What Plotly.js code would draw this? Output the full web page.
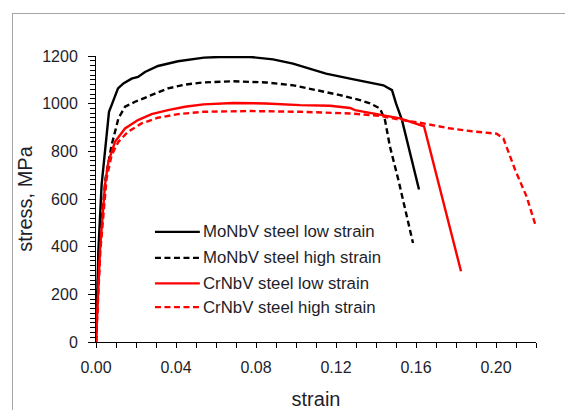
<!DOCTYPE html>
<html>
<head>
<meta charset="utf-8">
<script src="https://cdn.plot.ly/plotly-3.0.1.min.js"></script>
<style>
  html, body { margin: 0; padding: 0; background: #fff; }
  #wrap { position: relative; width: 565px; height: 410px; overflow: hidden; }
  #frame { position: absolute; left: 12px; top: 13px; width: 620px; height: 460px; border: 1px solid #a6a6a6; }
  #chart { position: absolute; left: 0; top: 0; width: 565px; height: 410px; }
</style>
</head>
<body>
<div id="wrap"><div id="frame"></div><div id="chart"></div></div>
<script>
// ---- data ----
const seriesNames = ["MoNbV steel low strain", "MoNbV steel high strain", "CrNbV steel low strain", "CrNbV steel high strain"];

const moLowStrain = [0, 0.0012, 0.0028, 0.0045, 0.0065, 0.0078, 0.011, 0.0137, 0.0178, 0.021, 0.0245, 0.031, 0.041, 0.054, 0.062, 0.077, 0.0885, 0.0985, 0.1087, 0.115, 0.127, 0.1387, 0.1437, 0.148, 0.150, 0.153, 0.157, 0.1615];
const moLowStress = [0, 386, 659, 805, 966, 994, 1064, 1085, 1105, 1112, 1133, 1158, 1178, 1193, 1196, 1196, 1186, 1168, 1140, 1126, 1105, 1085, 1077, 1057, 1001, 931, 791, 640];

const moHighStrain = [0, 0.0015, 0.0048, 0.0078, 0.0112, 0.0145, 0.0195, 0.0278, 0.036, 0.0445, 0.0537, 0.0687, 0.085, 0.0987, 0.110, 0.122, 0.132, 0.137, 0.142, 0.1445, 0.147, 0.1512, 0.1585];
const moHighStress = [0, 386, 687, 826, 938, 987, 1008, 1036, 1064, 1080, 1089, 1094, 1089, 1077, 1057, 1036, 1015, 1001, 980, 931, 819, 680, 415];

const crLowStrain = [0, 0.002, 0.0045, 0.0062, 0.0095, 0.0145, 0.021, 0.0278, 0.036, 0.0445, 0.0537, 0.0687, 0.085, 0.102, 0.117, 0.127, 0.1295, 0.142, 0.152, 0.164, 0.1825];
const crLowStress = [0, 386, 659, 756, 840, 896, 931, 956, 973, 987, 997, 1003, 1001, 994, 991, 982, 973, 955, 938, 905, 297];

const crHighStrain = [0, 0.0022, 0.0053, 0.0078, 0.0112, 0.016, 0.0228, 0.031, 0.041, 0.0537, 0.077, 0.102, 0.127, 0.142, 0.1517, 0.1633, 0.1765, 0.188, 0.2003, 0.2037, 0.2095, 0.2153, 0.2198];
const crHighStress = [0, 386, 687, 784, 840, 882, 917, 941, 956, 966, 969, 966, 959, 949, 933, 918, 897, 884, 874, 854, 724, 610, 489];

const xTickVals = [0, 0.04, 0.08, 0.12, 0.16, 0.20];
const yTickVals = [0, 200, 400, 600, 800, 1000, 1200];

// ---- styles ----
const styles = [
  {color: "#000000", dash: "solid"},
  {color: "#000000", dash: "6px,3.5px"},
  {color: "#ff0000", dash: "solid"},
  {color: "#ff0000", dash: "6px,3.5px"}
];
const xs = [moLowStrain, moHighStrain, crLowStrain, crHighStrain];
const ys = [moLowStress, moHighStress, crLowStress, crHighStress];

const traces = seriesNames.map((n, i) => ({
  x: xs[i], y: ys[i], name: n, type: "scatter", mode: "lines",
  line: {color: styles[i].color, dash: styles[i].dash, width: 2.4},
  showlegend: false, hoverinfo: "skip"
}));

const font = "Liberation Sans, Arial, sans-serif";
const textColor = "#1e1e2a";

// manual legend (long symbol lines as in the reference)
const legY = [0.385, 0.294, 0.205, 0.122];
const shapes = [];
const annotations = [];
seriesNames.forEach((n, i) => {
  shapes.push({type: "line", xref: "paper", yref: "paper", x0: 0.134, x1: 0.236, y0: legY[i], y1: legY[i],
    line: {color: styles[i].color, dash: styles[i].dash, width: 2.2}});
  annotations.push({xref: "paper", yref: "paper", x: 0.238, y: legY[i], xanchor: "left", yanchor: "middle",
    text: n, showarrow: false, font: {family: font, size: 16.8, color: textColor}});
});

const layout = {
  width: 565, height: 410,
  margin: {l: 96, r: 29, t: 56, b: 68},
  paper_bgcolor: "rgba(0,0,0,0)",
  plot_bgcolor: "rgba(0,0,0,0)",
  font: {family: font, color: textColor},
  showlegend: false,
  xaxis: {
    range: [0, 0.22], tickvals: xTickVals, tickformat: ".2f",
    showgrid: false, zeroline: false, showline: true, linecolor: "#000", linewidth: 1,
    ticks: "outside", ticklen: 5, tickcolor: "#000", tickwidth: 1,
    minor: {dtick: 0.01, tick0: 0, ticks: "outside", ticklen: 5, tickcolor: "#000", tickwidth: 1},
    tickfont: {family: font, size: 16, color: textColor},
    ticklabelstandoff: 6,
    title: {text: "strain", font: {family: font, size: 20, color: textColor}, standoff: 19},
    automargin: false
  },
  yaxis: {
    range: [0, 1200], tickvals: yTickVals, tickformat: "d",
    showgrid: false, zeroline: false, showline: true, linecolor: "#000", linewidth: 1,
    ticks: "outside", ticklen: 7, tickcolor: "#000", tickwidth: 1,
    minor: {dtick: 20, tick0: 0, ticks: "outside", ticklen: 5, tickcolor: "#000", tickwidth: 1},
    tickfont: {family: font, size: 16, color: textColor},
    ticklabelstandoff: 7,
    title: {text: "stress, MPa", font: {family: font, size: 20, color: textColor}, standoff: 4},
    automargin: false
  },
  shapes: shapes,
  annotations: annotations
};

Plotly.newPlot("chart", traces, layout, {displayModeBar: false, staticPlot: true});
</script>
</body>
</html>
